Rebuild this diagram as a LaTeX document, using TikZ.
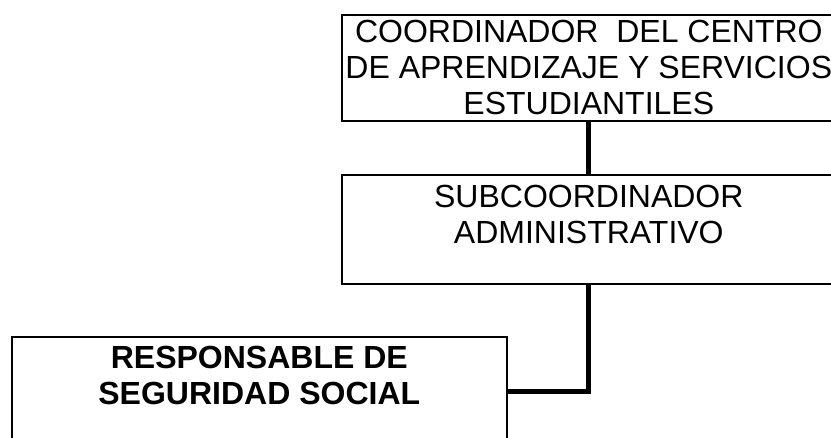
\documentclass[tikz,border=0pt]{standalone}
\usepackage{fontspec}
\setmainfont{Liberation Sans}
\usetikzlibrary{positioning}

\begin{document}
\begin{tikzpicture}[
    x=1pt, y=-1pt,
    orgbox/.style={rectangle, draw=black, line width=1.6pt, minimum width=494pt, inner sep=0pt},
    boxtext/.style={align=center, inner sep=0pt, font=\fontsize{32}{36}\selectfont},
    link/.style={line width=5pt, color=black}
]
\clip (0,0) rectangle (831,437);

% Coordinador
\node[orgbox, minimum height=106pt, anchor=north west] (coord) at (341,14) {};
\node[boxtext, below=6pt of coord.north] (coordtext) {COORDINADOR\ \ DEL CENTRO\\DE APRENDIZAJE Y SERVICIOS\\ESTUDIANTILES};

% Subcoordinador
\node[orgbox, minimum height=109pt, anchor=north west] (sub) at (341,174) {};
\node[boxtext, below=11pt of sub.north] (subtext) {SUBCOORDINADOR\\ADMINISTRATIVO};

% Responsable
\node[orgbox, minimum width=495pt, minimum height=109pt, anchor=north west] (resp) at (11,336) {};
\node[boxtext, font=\fontsize{32}{36}\selectfont\bfseries, below=10pt of resp.north] (resptext) {RESPONSABLE DE\\SEGURIDAD SOCIAL};

% Links
\draw[link] (coord.south) -- (sub.north);
\draw[link] (sub.south) |- (resp.east);

\end{tikzpicture}
\end{document}
